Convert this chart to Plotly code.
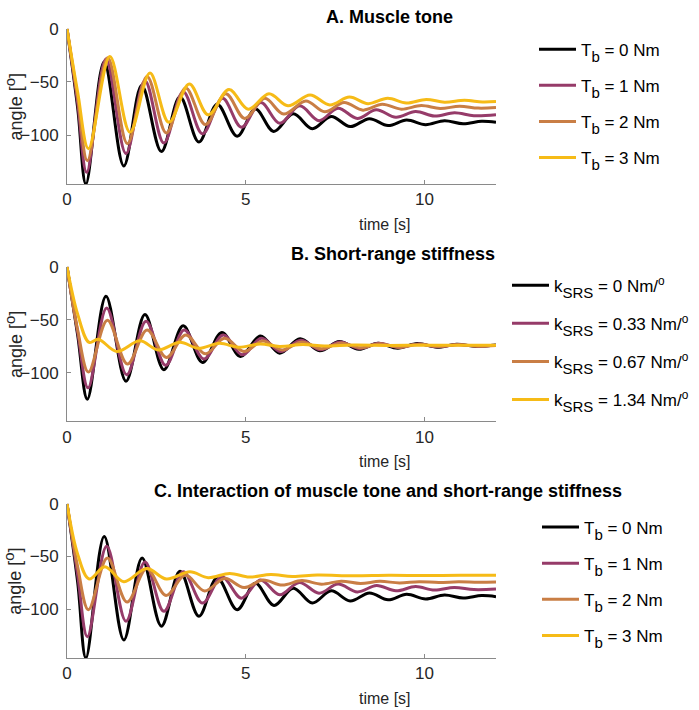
import plotly.graph_objects as go

# ---------------- data (extrema of each trace) ----------------
# Panel A: Muscle tone
A_t_0 = [0, 0.3, 0.53, 1.04, 1.59, 2.09, 2.64, 3.16, 3.69, 4.2, 4.76, 5.27, 5.78, 6.33, 6.86, 7.39, 7.92, 8.46, 8.98, 9.5, 10.03, 10.56, 11.08, 11.6, 12.0]
A_y_0 = [0, -75, -146, -31, -129, -53, -115.5, -64, -106.5, -71, -101, -75.5, -96.5, -80, -94, -82.5, -92, -84.5, -91, -85.8, -90.2, -86.4, -89.3, -87, -88]
A_t_1 = [0, 0.3, 0.55, 1.09, 1.65, 2.18, 2.71, 3.25, 3.79, 4.35, 4.88, 5.42, 5.95, 6.51, 7.05, 7.58, 8.12, 8.65, 9.2, 9.75, 10.28, 10.84, 11.38, 12.0]
A_y_1 = [0, -70, -135, -28.5, -117.3, -48.8, -107.4, -59.3, -98.8, -65.4, -92.6, -69.4, -88.9, -72.5, -86.4, -74.7, -84.3, -76.2, -83.3, -77.8, -82.1, -79, -81.8, -80.9]
A_t_2 = [0, 0.3, 0.57, 1.14, 1.69, 2.24, 2.78, 3.32, 3.87, 4.44, 4.97, 5.53, 6.06, 6.68, 7.21, 7.75, 8.28, 8.82, 9.35, 9.91, 10.44, 10.98, 11.5, 12.0]
A_y_2 = [0, -65, -124, -27.2, -108, -44.8, -98, -55.6, -90.1, -61.1, -84.3, -65.4, -80.2, -67.9, -78.1, -69.4, -76.5, -71, -75.6, -72.2, -75, -72.8, -74.6, -74.1]
A_t_3 = [0, 0.3, 0.6, 1.2, 1.76, 2.32, 2.85, 3.42, 3.95, 4.53, 5.07, 5.65, 6.18, 6.8, 7.35, 7.9, 8.42, 8.97, 9.49, 10.05, 10.56, 11.12, 11.62, 12.0]
A_y_3 = [0, -60, -112.7, -26.2, -97.2, -41.7, -88, -51.9, -80.9, -57.1, -75.6, -61.1, -72.5, -62.3, -71.6, -64.2, -70.4, -65.4, -69.8, -66.4, -69.1, -67.3, -68.9, -68.5]

# Panel B: Short-range stiffness
B_t_0 = [0, 0.3, 0.57, 1.09, 1.65, 2.18, 2.71, 3.25, 3.79, 4.33, 4.85, 5.41, 5.95, 6.52, 7.07, 7.62, 8.16, 8.7, 9.25, 9.8, 10.35, 10.9, 11.45, 12.0]
B_y_0 = [0, -65, -125, -28, -108, -45.2, -97.2, -55.8, -90.3, -62, -84.7, -65.4, -81.6, -68, -79.4, -70.7, -77.9, -72.3, -76.9, -72.6, -76, -73.2, -75.3, -74]
B_t_1 = [0, 0.3, 0.59, 1.11, 1.67, 2.21, 2.76, 3.28, 3.83, 4.37, 4.9, 5.44, 5.97, 6.54, 7.09, 7.64, 8.18, 8.72, 9.27, 9.82, 10.37, 10.92, 11.47, 12.0]
B_y_1 = [0, -62, -114.3, -38.9, -101.9, -51.4, -93.1, -59.8, -87.2, -64.5, -83.2, -67.6, -80, -69.5, -78.4, -71, -77.3, -72.3, -76.3, -73, -75.6, -73.5, -75, -74.2]
B_t_2 = [0, 0.3, 0.6, 1.13, 1.69, 2.24, 2.78, 3.32, 3.87, 4.41, 4.95, 5.48, 6.02, 6.57, 7.12, 7.67, 8.21, 8.75, 9.3, 9.85, 10.4, 10.95, 11.5, 12.0]
B_y_2 = [0, -60, -99.4, -50.5, -91.9, -59.8, -85.7, -64.5, -82.2, -67.6, -80, -70.1, -78.5, -71, -77.5, -72, -76.6, -72.8, -76, -73.3, -75.4, -73.6, -75, -74.3]
B_t_3 = [0, 0.3, 0.62, 0.88, 1.39, 2.04, 2.55, 3.16, 3.67, 4.27, 4.8, 5.4, 5.95, 6.6, 7.2, 8.0, 9.0, 10.0, 11.0, 12.0]
B_y_3 = [0, -45, -71.5, -68.5, -80, -70, -78.5, -71.3, -77, -72.3, -76, -73, -75.2, -73.5, -74.8, -74, -74.3, -74.1, -74.2, -74.2]

# Panel C: Interaction of muscle tone and short-range stiffness
C_t_0 = [0, 0.3, 0.53, 1.04, 1.59, 2.1, 2.64, 3.16, 3.69, 4.2, 4.76, 5.27, 5.79, 6.33, 6.86, 7.39, 7.92, 8.46, 8.98, 9.5, 10.03, 10.56, 11.08, 11.6, 12.0]
C_y_0 = [0, -75, -146, -31, -129, -51.5, -115.9, -64, -106.5, -70, -100.3, -75.4, -96.3, -80, -94, -82.5, -92, -84.5, -91, -85.8, -90.2, -86.4, -89.3, -87, -88]
C_t_1 = [0, 0.3, 0.57, 1.11, 1.65, 2.18, 2.71, 3.25, 3.79, 4.33, 4.88, 5.41, 5.95, 6.5, 7.05, 7.58, 8.12, 8.66, 9.2, 9.75, 10.28, 10.83, 11.38, 12.0]
C_y_1 = [0, -68, -125.9, -40.2, -111.2, -55.1, -101.9, -64.5, -94.1, -69.2, -89.4, -72.3, -86.3, -74.5, -84.7, -76, -83.5, -77.5, -82.5, -78.5, -81.8, -79.3, -81.3, -80.8]
C_t_2 = [0, 0.3, 0.6, 1.13, 1.68, 2.23, 2.77, 3.31, 3.85, 4.41, 4.95, 5.48, 6.02, 6.57, 7.12, 7.67, 8.21, 8.75, 9.3, 9.85, 10.4, 10.95, 11.5, 12.0]
C_y_2 = [0, -60, -100.3, -51.4, -93.1, -61.4, -86.9, -67.6, -82.6, -70.7, -79.4, -72.3, -77, -72.8, -76.2, -73.3, -75.5, -73.5, -75, -73.8, -74.6, -73.9, -74.3, -74.1]
C_t_3 = [0, 0.3, 0.62, 1.06, 1.59, 2.23, 2.78, 3.44, 3.95, 4.55, 5.1, 5.7, 6.3, 7.0, 8.0, 9.0, 10.0, 11.0, 12.0]
C_y_3 = [0, -48, -71.3, -59.8, -73.8, -61.4, -71.3, -64.5, -70, -66, -69.5, -67, -69, -67.5, -68.3, -67.8, -68, -67.8, -67.8]

titles = ["A. Muscle tone", "B. Short-range stiffness",
          "C. Interaction of muscle tone and short-range stiffness"]
SUB = "<span style='font-size:15px;baseline-shift:-6px'>{}</span>"
labels_T = ["T" + SUB.format("b") + " = 0 Nm",
            "T" + SUB.format("b") + " = 1 Nm",
            "T" + SUB.format("b") + " = 2 Nm",
            "T" + SUB.format("b") + " = 3 Nm"]
labels_k = ["k" + SUB.format("SRS") + " = 0 Nm/<sup>o</sup>",
            "k" + SUB.format("SRS") + " = 0.33 Nm/<sup>o</sup>",
            "k" + SUB.format("SRS") + " = 0.67 Nm/<sup>o</sup>",
            "k" + SUB.format("SRS") + " = 1.34 Nm/<sup>o</sup>"]
x_ticks = [0, 5, 10]
y_ticks = [-100, -50, 0]

colors = ["#000000", "#963B69", "#C97E45", "#F6BB17"]
FONT = "Liberation Sans, Arial, Helvetica, sans-serif"

panels = [
    ([A_t_0, A_t_1, A_t_2, A_t_3], [A_y_0, A_y_1, A_y_2, A_y_3], labels_T),
    ([B_t_0, B_t_1, B_t_2, B_t_3], [B_y_0, B_y_1, B_y_2, B_y_3], labels_k),
    ([C_t_0, C_t_1, C_t_2, C_t_3], [C_y_0, C_y_1, C_y_2, C_y_3], labels_T),
]

W, H = 699, 710
L, R = 67, 496
plot_w = R - L
def px_x(x):
    return (x - L) / plot_w
def px_y(y):
    return 1 - y / H

# vertical pixel extents of each axes (top, bottom)
ext = [(20, 177.3), (261, 417.7), (501, 657.3)]

fig = go.Figure()
legend_names = ["legend", "legend2", "legend3"]
for p, (ts, ys, labs) in enumerate(panels):
    for i in range(4):
        fig.add_trace(go.Scatter(
            x=ts[i], y=ys[i], mode="lines", name=labs[i],
            line=dict(color=colors[i], width=3, shape="spline", smoothing=1.0),
            xaxis="x" if p == 0 else f"x{p+1}",
            yaxis="y" if p == 0 else f"y{p+1}",
            legend=legend_names[p], legendgroup=f"g{p}{i}",
            showlegend=True,
        ))

axis_common = dict(showline=True, linecolor="#8a8a8a", linewidth=1,
                   ticks="inside", ticklen=4, tickcolor="#8a8a8a",
                   showgrid=False, zeroline=False,
                   tickfont=dict(family=FONT, size=17, color="#262626"))
layout = dict(width=W, height=H, margin=dict(l=L, r=W - R, t=0, b=0),
              plot_bgcolor="white", paper_bgcolor="white",
              font=dict(family=FONT, size=16, color="#262626"))
for p in range(3):
    top, bot = ext[p]
    sx = "" if p == 0 else str(p + 1)
    layout[f"xaxis{sx}"] = dict(axis_common, domain=[0, 1], range=[0, 12],
                                tickvals=x_ticks, anchor=f"y{sx}")
    layout[f"yaxis{sx}"] = dict(axis_common, domain=[px_y(bot), px_y(top)],
                                range=[-146, 0], tickvals=y_ticks, anchor=f"x{sx}",
                                ticklabelstandoff=4)

leg_x = [534, 507, 537]
leg_top = [23, 262, 507]
leg_gap = [11, 13, 11]
for p in range(3):
    layout[legend_names[p]] = dict(
        x=px_x(leg_x[p]), y=px_y(leg_top[p]), xanchor="left", yanchor="top",
        font=dict(family=FONT, size=17, color="#000000"),
        bgcolor="rgba(0,0,0,0)", itemwidth=37, tracegroupgap=leg_gap[p],
        itemclick=False, itemdoubleclick=False)

annotations = []
title_cx = [389, 393, 388]
title_cy = [8, 248, 488]
for p in range(3):
    top, bot = ext[p]
    annotations.append(dict(text=f"<b>{titles[p]}</b>", xref="paper", yref="paper",
                            x=px_x(title_cx[p]), y=px_y(title_cy[p]),
                            xanchor="center", yanchor="middle", showarrow=False,
                            font=dict(family=FONT, size=18, color="#000000")))
    annotations.append(dict(text="time [s]", xref="paper", yref="paper",
                            x=px_x(385), y=px_y(bot + 41),
                            xanchor="center", yanchor="middle", showarrow=False,
                            font=dict(family=FONT, size=16, color="#262626")))
    annotations.append(dict(text="angle [<span style='font-size:15px;baseline-shift:7px'>o</span>]",
                            xref="paper", yref="paper",
                            x=px_x(13), y=px_y((top + bot) / 2), textangle=-90,
                            xanchor="center", yanchor="middle", showarrow=False,
                            font=dict(family=FONT, size=18, color="#262626")))
layout["annotations"] = annotations
fig.update_layout(**layout)
# remove the default 8px page margin so the figure fills the window exactly
fig.write_html("out.html", config={"displayModeBar": False},
               post_script="document.body.style.margin='0px';")
